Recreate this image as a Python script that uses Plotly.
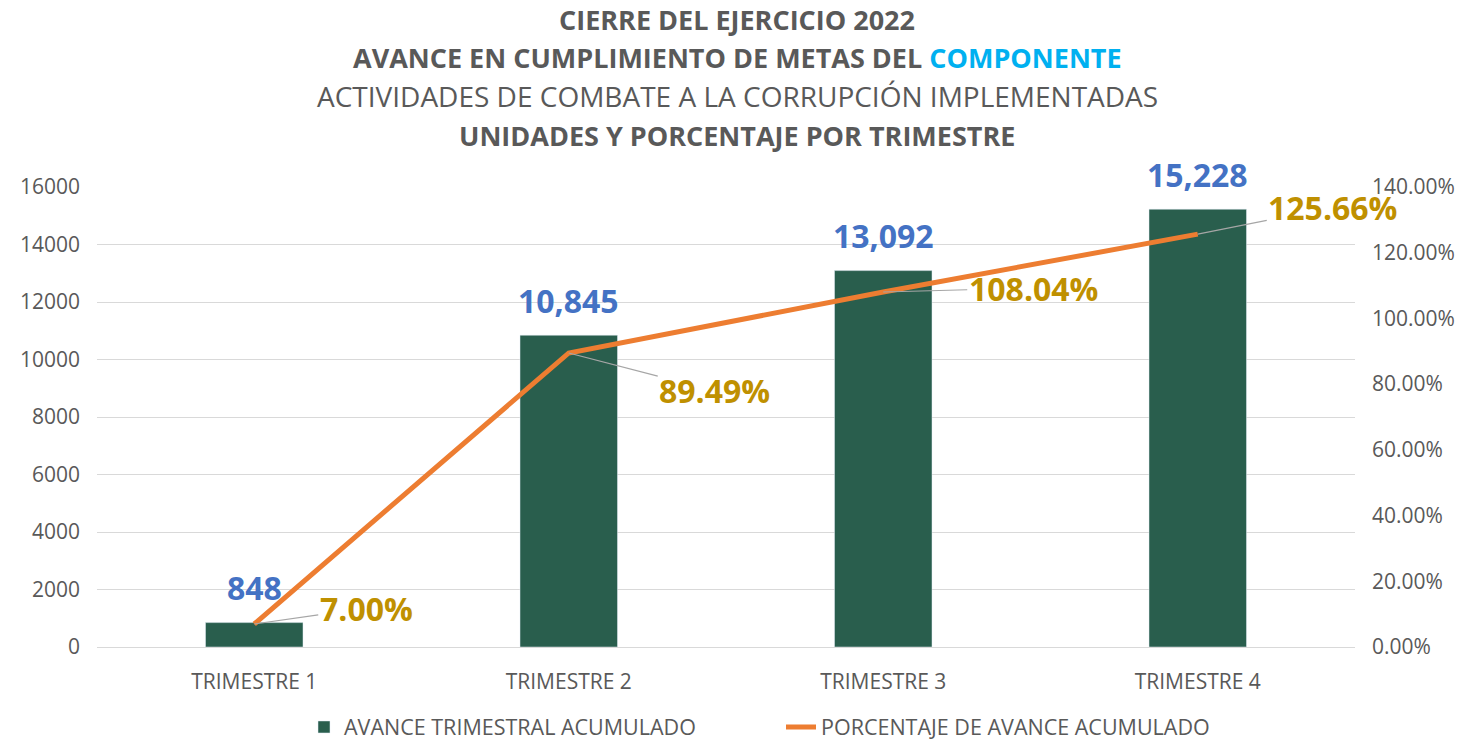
import plotly.graph_objects as go

categories = ["TRIMESTRE 1", "TRIMESTRE 2", "TRIMESTRE 3", "TRIMESTRE 4"]
avance = [848, 10845, 13092, 15228]
porcentaje = [0.0700, 0.8949, 1.0804, 1.2566]
avance_labels = ["848", "10,845", "13,092", "15,228"]
pct_labels = ["7.00%", "89.49%", "108.04%", "125.66%"]
left_ticks = [0, 2000, 4000, 6000, 8000, 10000, 12000, 14000, 16000]
right_ticks = [0, 0.2, 0.4, 0.6, 0.8, 1.0, 1.2, 1.4]
title_lines = [
    "<b>CIERRE DEL EJERCICIO 2022</b>",
    "<b>AVANCE EN CUMPLIMIENTO DE METAS DEL <span style='color:#00B0F0'>COMPONENTE</span></b>",
    "ACTIVIDADES DE COMBATE A LA CORRUPCIÓN IMPLEMENTADAS",
    "<b>UNIDADES Y PORCENTAJE POR TRIMESTRE</b>",
]

FONT = "Open Sans"
GRAY = "#595959"

# page shows the figure offset by the 8px body margin
L, R, T, B = 89, 118, 179, 100
PH = 739 - T - B
PW = 1465 - L - R

fig = go.Figure()
fig.add_trace(go.Bar(
    x=categories, y=avance, name="AVANCE TRIMESTRAL ACUMULADO",
    marker=dict(color="#295E4D"), width=0.31, yaxis="y",
))
fig.add_trace(go.Scatter(
    x=categories, y=porcentaje, name="PORCENTAJE DE AVANCE ACUMULADO",
    mode="lines", line=dict(color="#ED7D31", width=5), yaxis="y2",
))

annotations = []
for c, v, t in zip(categories, avance, avance_labels):
    annotations.append(dict(
        x=c, y=v, xref="x", yref="y", text=f"<b>{t}</b>", showarrow=False,
        yshift=35, font=dict(family=FONT, size=32, color="#4472C4"),
    ))

offsets = [(112, -16), (146, 38), (150, -4), (135, -27)]
for c, p, t, (ax, ay) in zip(categories, porcentaje, pct_labels, offsets):
    annotations.append(dict(
        x=c, y=p, xref="x", yref="y2", text=f"<b>{t}</b>", showarrow=True,
        arrowhead=0, arrowwidth=1.2, arrowcolor="#A6A6A6", ax=ax, ay=ay,
        standoff=0, font=dict(family=FONT, size=32, color="#BF9000"),
    ))

title_y_px = [11, 49, 88, 127]
title_sizes = [27, 27, 28, 27]
title_x = (729 - L) / PW
for line, ypx, sz in zip(title_lines, title_y_px, title_sizes):
    annotations.append(dict(
        x=title_x, xref="paper", y=(739 - B - ypx) / PH, yref="paper",
        xanchor="center", yanchor="middle",
        text=line, showarrow=False, font=dict(family=FONT, size=sz, color=GRAY),
    ))

fig.update_layout(
    width=1465, height=739,
    paper_bgcolor="white", plot_bgcolor="white",
    margin=dict(l=L, r=R, t=T, b=B, autoexpand=False),
    bargap=0.69,
    xaxis=dict(range=[-0.5, len(categories) - 0.5], tickfont=dict(family=FONT, size=21, color=GRAY),
               showline=True, linecolor="#D9D9D9", linewidth=1, ticks="",
               ticklabelstandoff=16, automargin=False),
    yaxis=dict(range=[0, 16000], tickvals=left_ticks, tickformat="d", showgrid=True,
               gridcolor="#D9D9D9", gridwidth=1, zeroline=False,
               tickfont=dict(family=FONT, size=21, color=GRAY), ticks="",
               ticklabelstandoff=16, automargin=False),
    yaxis2=dict(range=[0, 1.4], tickvals=right_ticks, tickformat=".2%", overlaying="y",
                side="right", showgrid=False, zeroline=False, ticklabelstandoff=16,
                tickfont=dict(family=FONT, size=21, color=GRAY), automargin=False),
    legend=dict(orientation="h", x=(296 - L) / PW, xanchor="left", y=1 - 719 / 739,
                yanchor="middle", yref="container",
                font=dict(family=FONT, size=21.5, color=GRAY),
                itemwidth=30, entrywidth=432, entrywidthmode="pixels"),
    annotations=annotations,
    showlegend=True,
)

fig.write_html("out.html")
